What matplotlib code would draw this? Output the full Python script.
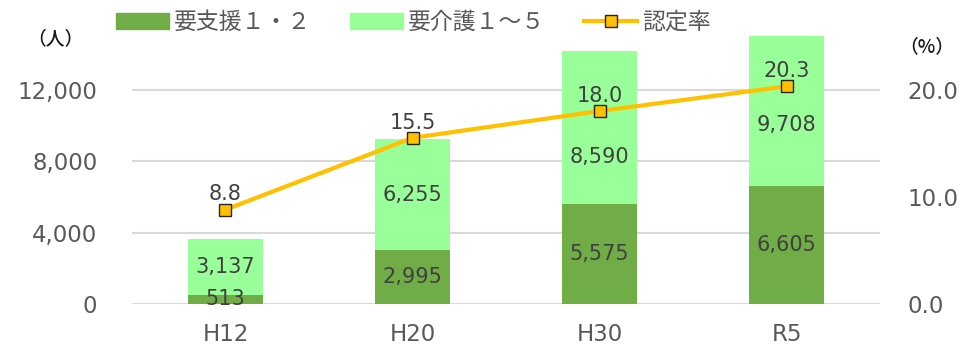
import matplotlib.pyplot as plt
from matplotlib.patches import Patch
from matplotlib.lines import Line2D

years = ["H12", "H20", "H30", "R5"]
support = [513, 2995, 5575, 6605]      # 要支援１・２
care = [3137, 6255, 8590, 9708]        # 要介護１～５
rate = [8.8, 15.5, 18.0, 20.3]         # 認定率 (%)

dark_green = "#70AD47"
light_green = "#99FF99"
line_col = "#FFC000"
fonts = ["DejaVu Sans", "Noto Sans CJK JP"]
plt.rcParams["font.family"] = fonts

fig = plt.figure(figsize=(9.62, 3.47), dpi=100)
ax = fig.add_axes([0.1372, 0.1239, 0.7776, 0.7724])
ax2 = ax.twinx()

x = list(range(len(years)))
width = 0.4
ymax = 15000
ax.bar(x, support, width, color=dark_green, zorder=2)
ax.bar(x, care, width, bottom=support, color=light_green, zorder=2)

# labels in the middle of each segment; the upper ones nudged down a bit
nudge = [0, 0, -1640, -780]
for i in x:
    ax.text(i, support[i] / 2, f"{support[i]:,}", ha="center", va="center",
            fontsize=15, color="#404040", zorder=3)
    top = min(support[i] + care[i], ymax)
    ax.text(i, (support[i] + top) / 2 + nudge[i], f"{care[i]:,}", ha="center",
            va="center", fontsize=15, color="#404040", zorder=3)

ax.set_xlim(-0.5, len(years) - 0.5)
ax.set_ylim(0, ymax)
ax.set_yticks([0, 4000, 8000, 12000])
ax.set_yticklabels([f"{v:,}" for v in [0, 4000, 8000, 12000]])
ax.set_xticks(x)
ax.set_xticklabels(years)
ax.grid(axis="y", color="#D9D9D9", lw=1.5, zorder=0)
ax.set_axisbelow(True)
ax.tick_params(axis="y", length=0, pad=25, labelsize=16.5, labelcolor="#595959")
ax.tick_params(axis="x", length=0, pad=14, labelsize=16.5, labelcolor="#595959")

ax2.plot(x, rate, color=line_col, lw=3, marker="s", ms=8,
         mfc=line_col, mec="#262626", mew=1)
for i in x:
    ax2.annotate(f"{rate[i]:.1f}", (i, rate[i]), xytext=(0, 11),
                 textcoords="offset points", ha="center", va="center",
                 fontsize=15, color="#404040")
ax2.set_ylim(0, 25)
ax2.set_yticks([0, 10, 20])
ax2.set_yticklabels([f"{v:.1f}" for v in [0, 10, 20]])
ax2.tick_params(axis="y", length=0, pad=20, labelsize=16.5, labelcolor="#595959")

for a in (ax, ax2):
    for s in a.spines.values():
        s.set_visible(False)

fig.text(0.058, 0.889, "（人）", ha="center", va="center", fontsize=13.5,
         color="#1a1a1a", family="Noto Sans CJK JP", weight="medium")
fig.text(0.963, 0.865, "（%）", ha="center", va="center", fontsize=13.5,
         color="#1a1a1a", family="Noto Sans CJK JP", weight="medium")

handles = [
    Patch(color=dark_green, label="要支援１・２"),
    Patch(color=light_green, label="要介護１～５"),
    Line2D([], [], color=line_col, lw=3, marker="s", ms=8, mfc=line_col,
           mec="#262626", mew=1, label="認定率"),
]
fig.legend(handles=handles, loc="center left", bbox_to_anchor=(0.121, 0.935),
           ncol=3, frameon=False, fontsize=16.5, labelcolor="#595959",
           handlelength=2.3, handleheight=0.75, handletextpad=0.22,
           columnspacing=1.7, borderpad=0, borderaxespad=0)

fig.savefig("out.png", dpi=100)
